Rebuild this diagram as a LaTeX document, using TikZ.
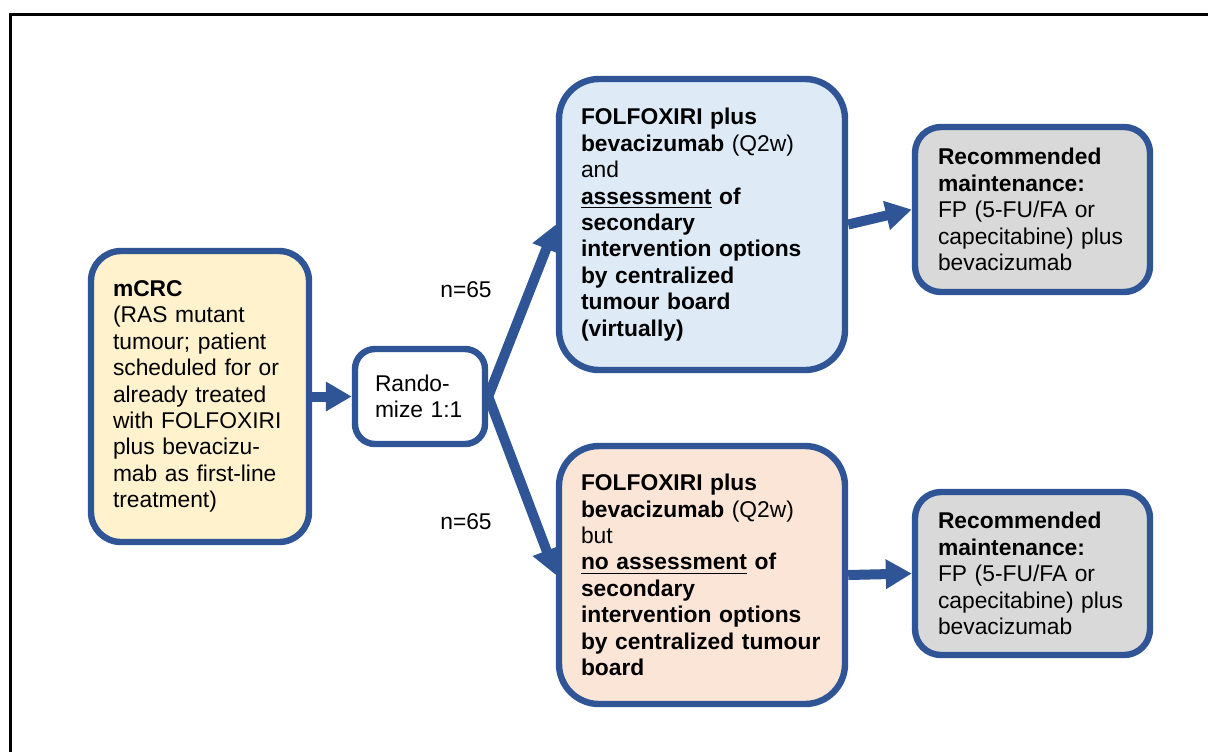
\documentclass[tikz,border=0pt]{standalone}
\usepackage{fontspec}
\setmainfont{Liberation Sans}
\usetikzlibrary{arrows.meta, positioning}
\definecolor{FrameBlue}{HTML}{2F5597}
\definecolor{StartYellow}{HTML}{FFF2CC}
\definecolor{ArmBlue}{HTML}{DEEBF7}
\definecolor{ArmPeach}{HTML}{FBE5D6}
\definecolor{MaintGray}{HTML}{D9D9D9}
\newcommand{\ulword}[1]{\underline{#1}}

\begin{document}
\begin{tikzpicture}[x=0.5pt, y=-0.5pt,
    box/.style={draw=FrameBlue, line width=3.2pt, align=left, inner ysep=0pt, font=\fontsize{11.4}{13.2}\selectfont},
    lbl/.style={font=\fontsize{11.4}{13.2}\selectfont},
    flow/.style={-{Triangle[length=13pt, width=14pt]}, color=FrameBlue, line width=5pt}]

                % Page size and outer frame
                \useasboundingbox (0,0) rectangle (1208,751);
                \clip (0,0) rectangle (1208,751);
                \draw[line width=1.5pt] (10,14.5) rectangle (1240,790);

                % Start and randomisation
                \node[box, fill=StartYellow, rounded corners=15pt, inner xsep=11pt, text width=87pt, minimum height=145.5pt] (mcrc) at (200,396.5) {\textbf{mCRC}\\(RAS mutant\\tumour; patient\\scheduled for or\\already treated\\with FOLFOXIRI\\plus bevacizu-\\mab as first-line\\treatment)};
                \node[box, fill=white, rounded corners=10pt, inner xsep=10pt, text width=45pt, minimum height=47.5pt] (rand) at (420,396.5) {Rando-\\mize 1:1};

                % Treatment arms
                \node[box, fill=ArmBlue, rounded corners=20pt, inner xsep=11pt, text width=121pt, minimum height=145.5pt] (armA) at (702,224.5) {\textbf{FOLFOXIRI plus}\\\textbf{bevacizumab} (Q2w)\\and\\\textbf{\ulword{assessment} of}\\\textbf{secondary}\\\textbf{intervention options}\\\textbf{by centralized}\\\textbf{tumour board}\\\textbf{(virtually)}};
                \node[box, fill=ArmPeach, rounded corners=20pt, inner xsep=11pt, text width=121pt, minimum height=129pt] (armB) at (702,575) {\textbf{FOLFOXIRI plus}\\\textbf{bevacizumab} (Q2w)\\but\\\textbf{\ulword{no assessment} of}\\\textbf{secondary}\\\textbf{intervention options}\\\mbox{\textbf{by centralized tumour}}\\\textbf{board}};

                % Maintenance
                \node[box, fill=MaintGray, rounded corners=13pt, inner xsep=11.5pt, text width=94.5pt, minimum height=82.5pt] (maintA) at (1032.5,209.5) {\textbf{Recommended}\\\textbf{maintenance:}\\FP (5-FU/FA or\\capecitabine) plus\\bevacizumab};
                \node[box, fill=MaintGray, rounded corners=13pt, inner xsep=11.5pt, text width=94.5pt, minimum height=81.5pt] (maintB) at (1032.5,573.5) {\textbf{Recommended}\\\textbf{maintenance:}\\FP (5-FU/FA or\\capecitabine) plus\\bevacizumab};

                % Group sizes
                \node[lbl] (nA) at (466,290) {n=65};
                \node[lbl] (nB) at (466,522) {n=65};

                % Connectors
                \draw[flow] (mcrc) -- (rand);
                \draw[flow] (rand.east) -- (armA.west);
                \draw[flow] (rand.east) -- (armB.west);
                \draw[flow] (armA.east) -- (maintA.west);
                \draw[flow] (armB.east) -- (maintB.west);
            \end{tikzpicture}
\end{document}
